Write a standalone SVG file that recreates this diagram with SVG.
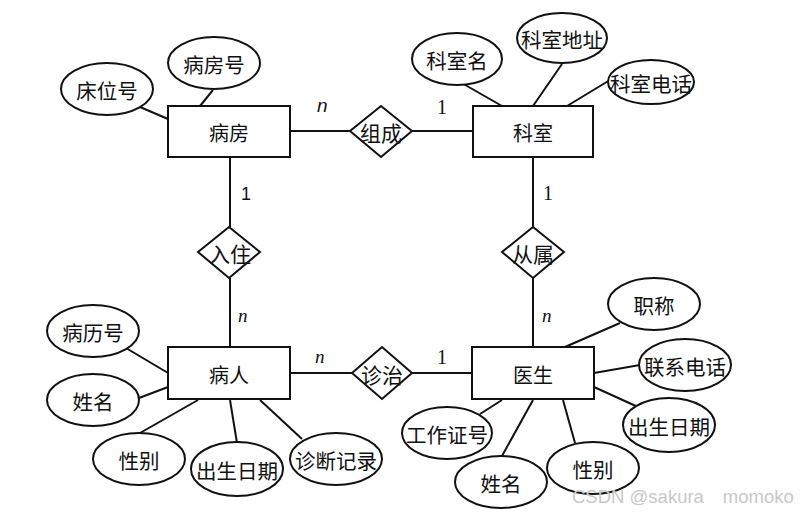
<svg xmlns="http://www.w3.org/2000/svg" width="809" height="514" viewBox="0 0 809 514">
<style>
.e{fill:#fff;stroke:#111;stroke-width:2}
.t{font-family:"Noto Sans CJK SC","Noto Sans",sans-serif;font-size:20.5px;fill:#111;text-anchor:middle;dominant-baseline:central}
.ent{font-size:20px}
.rel{font-size:21px}
.c line{stroke:#111;stroke-width:2}
.ns{font-family:"Liberation Sans",sans-serif;font-style:italic;font-size:19px;fill:#111}
.ni{font-family:"Liberation Serif",serif;font-style:italic;font-size:19px;fill:#111}
.one{font-family:"Liberation Serif",serif;font-size:20px;fill:#111}
.ones{font-family:"Liberation Sans",sans-serif;font-size:18px;fill:#111}
</style>
<rect width="809" height="514" fill="#fff"/>
<g class="c" id="connectors">
<line x1="290" y1="131" x2="350" y2="131"/>
<line x1="412" y1="131" x2="473" y2="131"/>
<line x1="290" y1="373" x2="352" y2="373"/>
<line x1="412" y1="373" x2="472" y2="373"/>
<line x1="230" y1="157" x2="230" y2="227"/>
<line x1="230" y1="278" x2="230" y2="347"/>
<line x1="533" y1="157" x2="533" y2="227"/>
<line x1="533" y1="278" x2="533" y2="347"/>
<line x1="140" y1="107" x2="168" y2="119"/>
<line x1="213" y1="90" x2="200" y2="106"/>
<line x1="460" y1="82" x2="502" y2="106"/>
<line x1="562" y1="64" x2="533" y2="106"/>
<line x1="610" y1="80" x2="567" y2="106"/>
<line x1="126" y1="348" x2="168" y2="373"/>
<line x1="139" y1="398" x2="168" y2="387"/>
<line x1="140" y1="433" x2="198" y2="400"/>
<line x1="237" y1="443" x2="230" y2="400"/>
<line x1="302" y1="439" x2="260" y2="400"/>
<line x1="620" y1="323" x2="565" y2="347"/>
<line x1="640" y1="365" x2="594" y2="373"/>
<line x1="638" y1="407" x2="594" y2="387"/>
<line x1="480" y1="414" x2="502" y2="400"/>
<line x1="502" y1="456" x2="533" y2="400"/>
<line x1="575" y1="443" x2="563" y2="400"/>
<text class="ns" x="317" y="112">n</text>
<text class="one" x="437" y="114">1</text>
<text class="ones" x="241" y="200">1</text>
<text class="ni" x="238" y="322">n</text>
<text class="one" x="543" y="200">1</text>
<text class="ni" x="542" y="322">n</text>
<text class="ni" x="315" y="363">n</text>
<text class="one" x="437" y="364">1</text>
</g>
<g id="bingfang"><rect class="e" x="168" y="106" width="122" height="51"/><text class="t ent" x="229" y="132">病房</text></g>
<g id="keshi"><rect class="e" x="473" y="106" width="120" height="51"/><text class="t ent" x="533" y="132">科室</text></g>
<g id="bingren"><rect class="e" x="168" y="347" width="122" height="52"/><text class="t ent" x="229" y="374">病人</text></g>
<g id="yisheng"><rect class="e" x="472" y="347" width="122" height="52"/><text class="t ent" x="533" y="374">医生</text></g>
<g id="zucheng"><polygon class="e" points="350,131 381,106 412,131 381,157"/><text class="t rel" x="381" y="132">组成</text></g>
<g id="ruzhu"><polygon class="e" points="198,252 229,227 260,252 229,278"/><text class="t rel" x="230" y="253">入住</text></g>
<g id="congshu"><polygon class="e" points="502,252 533,227 564,252 533,278"/><text class="t rel" x="533" y="253">从属</text></g>
<g id="zhenzhi"><polygon class="e" points="352,373 382,347 412,373 382,399"/><text class="t rel" x="382" y="374">诊治</text></g>
<g id="chuangweihao"><ellipse class="e" cx="107" cy="89" rx="46" ry="26"/><text class="t" x="107" y="90">床位号</text></g>
<g id="bingfanghao"><ellipse class="e" cx="214" cy="63" rx="46" ry="26"/><text class="t" x="214" y="64">病房号</text></g>
<g id="keshiming"><ellipse class="e" cx="457" cy="59" rx="45" ry="26"/><text class="t" x="457" y="60">科室名</text></g>
<g id="keshidizhi"><ellipse class="e" cx="562" cy="38" rx="45" ry="25"/><text class="t" x="562" y="39">科室地址</text></g>
<g id="keshidianhua"><ellipse class="e" cx="651" cy="82" rx="43" ry="22"/><text class="t" x="651" y="83">科室电话</text></g>
<g id="binglihao"><ellipse class="e" cx="93" cy="331" rx="46" ry="26"/><text class="t" x="93" y="332">病历号</text></g>
<g id="bingren-xingming"><ellipse class="e" cx="93" cy="400" rx="46" ry="26"/><text class="t" x="93" y="401">姓名</text></g>
<g id="bingren-xingbie"><ellipse class="e" cx="139" cy="459" rx="46" ry="26"/><text class="t" x="139" y="460">性别</text></g>
<g id="bingren-chusheng"><ellipse class="e" cx="237" cy="469" rx="46" ry="27"/><text class="t" x="237" y="470">出生日期</text></g>
<g id="zhenduanjilu"><ellipse class="e" cx="336" cy="459" rx="46" ry="26"/><text class="t" x="336" y="460">诊断记录</text></g>
<g id="zhicheng"><ellipse class="e" cx="654" cy="304" rx="46" ry="26"/><text class="t" x="654" y="305">职称</text></g>
<g id="lianxidianhua"><ellipse class="e" cx="685" cy="365" rx="46" ry="26"/><text class="t" x="685" y="366">联系电话</text></g>
<g id="yisheng-chusheng"><ellipse class="e" cx="669" cy="425" rx="46" ry="27"/><text class="t" x="669" y="426">出生日期</text></g>
<g id="gongzuozhenghao"><ellipse class="e" cx="447" cy="433" rx="45" ry="26"/><text class="t" x="447" y="434">工作证号</text></g>
<g id="yisheng-xingming"><ellipse class="e" cx="501" cy="482" rx="46" ry="26"/><text class="t" x="501" y="483">姓名</text></g>
<g id="yisheng-xingbie"><ellipse class="e" cx="593" cy="468" rx="46" ry="26"/><text class="t" x="593" y="469">性别</text></g>
<text x="572" y="503" style="font-family:'Liberation Sans',sans-serif;font-size:18.5px;fill:#c8c8c8">CSDN @sakura　momoko</text>
</svg>
